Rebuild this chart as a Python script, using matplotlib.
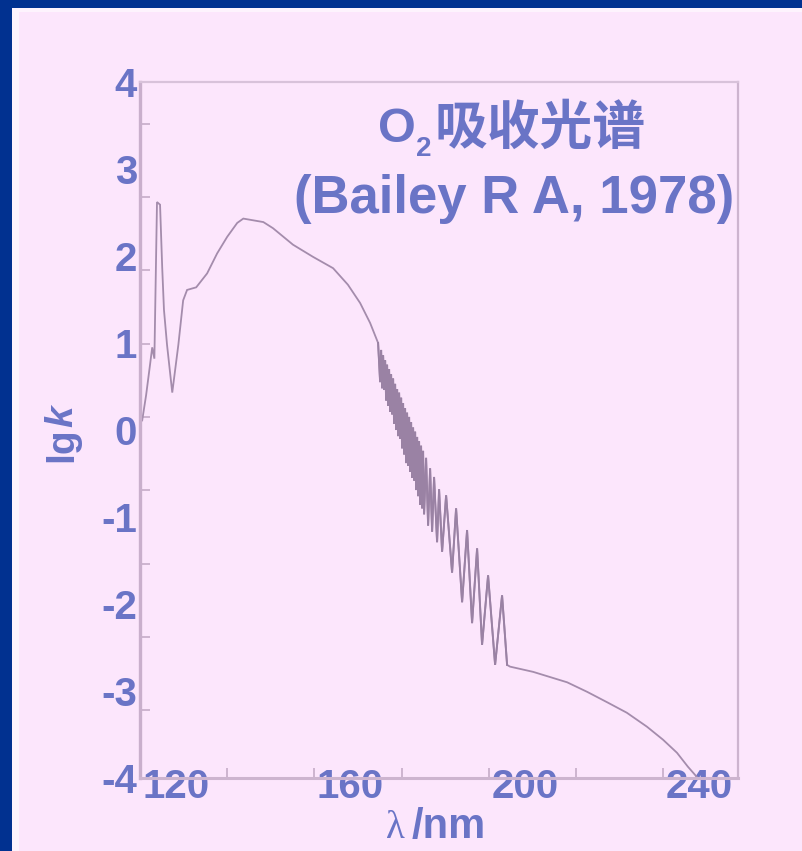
import matplotlib
matplotlib.use("Agg")
import matplotlib.pyplot as plt
import numpy as np
from matplotlib.ticker import FixedLocator, MultipleLocator
from matplotlib.patches import Rectangle

# O2 absorption coefficient (lg k) versus wavelength (nm)
wavelength_nm = [
    112.2, 113.1, 114.0, 114.5, 115.0, 115.6, 116.3, 116.8, 117.2, 117.9,
    119.1, 120.5, 121.6, 122.5, 124.6, 127.1, 129.4, 131.7, 134.0, 135.4,
    140.0, 142.2, 146.8, 151.4, 156.0, 159.4, 162.2, 164.5, 166.33,
    # Schumann-Runge bands
    166.79, 167.02, 167.25, 167.48, 167.71, 167.94, 168.17, 168.39, 168.62,
    168.85, 169.08, 169.31, 169.54, 169.77, 170.00, 170.23, 170.46, 170.69,
    170.92, 171.15, 171.38, 171.61, 171.83, 172.06, 172.29, 172.52, 172.75,
    172.98, 173.21, 173.44, 173.67, 173.90, 174.13, 174.36, 174.59, 174.82,
    175.05, 175.28, 175.50, 175.73, 175.96, 176.19, 176.42, 176.65, 176.88,
    177.34, 177.80, 178.26, 178.72, 179.17, 179.86, 180.32, 181.01,
    181.93, 183.30, 184.22, 185.60, 186.74, 187.89, 189.04, 190.18, 191.56,
    193.17, 194.77, 195.92,
    # Herzberg continuum
    196.6, 201.9, 209.7, 214.3, 218.9, 223.4, 228.0, 231.7, 234.9, 237.4,
    239.5, 240.6,
]
lg_k = [
    0.11, 0.40, 0.75, 0.95, 0.82, 2.62, 2.59, 1.86, 1.38, 0.98,
    0.43, 0.98, 1.49, 1.61, 1.64, 1.80, 2.03, 2.22, 2.38, 2.43,
    2.39, 2.32, 2.13, 1.99, 1.86, 1.67, 1.46, 1.23, 1.00,
    0.55, 0.92, 0.48, 0.86, 0.46, 0.80, 0.34, 0.75, 0.28,
    0.70, 0.21, 0.64, 0.18, 0.59, 0.07, 0.53, 0.00, 0.47,
    -0.07, 0.43, -0.10, 0.37, -0.21, 0.31, -0.28, 0.25, -0.38,
    0.20, -0.41, 0.15, -0.48, 0.09, -0.55, 0.03, -0.58, -0.02,
    -0.69, -0.08, -0.76, -0.13, -0.86, -0.18, -0.90, -0.24, -0.97,
    -0.32, -1.10, -0.44, -1.17, -0.54, -1.29, -0.68, -1.40,
    -0.75, -1.64, -0.90, -1.98, -1.15, -2.22, -1.36, -2.47, -1.67,
    -2.70, -1.90, -2.70,
    -2.72, -2.78, -2.90, -3.01, -3.13, -3.25, -3.41, -3.56, -3.71, -3.87,
    -3.99, -4.08,
]

x_ticks = [120, 160, 200, 240]
y_ticks = [-4, -3, -2, -1, 0, 1, 2, 3, 4]
title_species = "O"
title_subscript = "2"
title_words = "吸收光谱"
title_source = "(Bailey R A, 1978)"
x_symbol = "λ"
x_unit = "/nm"

W, H = 803, 851
NAVY = "#013190"
PANEL = "#FCE6FC"
TEXT = "#6A74C6"
CURVE = "#A48CAC"
BANDS = "#9A82A4"
FRAME = "#CDB4CF"

fig = plt.figure(figsize=(W / 100, H / 100), dpi=100)
fig.patch.set_facecolor(NAVY)


def fx(px):
    return px / W


def fy(py):
    return 1 - py / H


# slide panel with a thin light rim
fig.patches.append(Rectangle((fx(12), 0), 1, fy(8), transform=fig.transFigure,
                             facecolor="#FDF3FD", edgecolor="none", zorder=-10))
fig.patches.append(Rectangle((fx(19), 0), 1, fy(12), transform=fig.transFigure,
                             facecolor=PANEL, edgecolor="none", zorder=-9))

ax = fig.add_axes([fx(140), fy(778), fx(738) - fx(140), fy(82) - fy(778)])
ax.set_facecolor("none")
wl = np.array(wavelength_nm)
lk = np.array(lg_k)
ax.plot(wl, lk, color=CURVE, lw=1.3, solid_joinstyle="miter")
band = (wl >= 166.3) & (wl <= 196.0)
ax.plot(wl[band], lk[band], color=BANDS, lw=1.4, solid_joinstyle="miter")
ax.set_xlim(111.7, 248.9)
ax.set_ylim(-4, 4)

for side, sp in ax.spines.items():
    sp.set_color(FRAME)
    sp.set_linewidth(1.6)
ax.spines["left"].set_linewidth(2.4)
ax.spines["left"].set_color("#C9AFCC")
ax.spines["bottom"].set_linewidth(2.2)
ax.spines["top"].set_color("#D8C2DA")

# labelled positions
ax.xaxis.set_major_locator(FixedLocator(x_ticks))
ax.yaxis.set_major_locator(FixedLocator(y_ticks))
ax.set_xticklabels([str(v) for v in x_ticks])
ax.set_yticklabels([str(v) for v in y_ticks])
ax.tick_params(axis="both", which="major", length=0, labelsize=29,
               labelcolor=TEXT)
ax.tick_params(axis="x", which="major", pad=-7.5)
ax.tick_params(axis="y", which="major", pad=2)
for lab in ax.get_xticklabels() + ax.get_yticklabels():
    lab.set_fontfamily("Liberation Sans")
    lab.set_fontweight("bold")

# inner scale marks of the frame
ax.xaxis.set_minor_locator(MultipleLocator(20, offset=11.7))
ax.yaxis.set_minor_locator(MultipleLocator(0.843, offset=0.15))
ax.tick_params(axis="both", which="minor", direction="in", length=7,
               width=1.4, color=FRAME)

# y-axis title: "lg" upright, "k" italic
lg = fig.text(fx(62), fy(462), "lg", rotation=90, ha="center", va="bottom",
              fontsize=28, color=TEXT, fontweight="bold",
              family="Liberation Sans")
ax.annotate("k", xy=(0.5, 1), xycoords=lg, xytext=(0, 0),
            textcoords="offset points", rotation=90, ha="center", va="bottom",
            fontsize=28, color=TEXT, fontweight="bold", style="italic",
            family="Liberation Sans", annotation_clip=False)

# x-axis title
lam = fig.text(fx(386), fy(838), x_symbol, ha="left", va="baseline",
               fontsize=28, color=TEXT, family="Liberation Serif")
ax.annotate(x_unit, xy=(1, 0), xycoords=lam, xytext=(5, 0),
            textcoords="offset points", ha="left", va="bottom",
            fontsize=30, color=TEXT, fontweight="bold",
            family="Liberation Sans", annotation_clip=False)

# chart title
t_o = fig.text(fx(378), fy(142), title_species, ha="left", va="baseline",
               fontsize=35, color=TEXT, fontweight="bold",
               family="Liberation Sans")
t_sub = ax.annotate(title_subscript, xy=(1, 0), xycoords=t_o, xytext=(0, -7),
                    textcoords="offset points", ha="left", va="bottom",
                    fontsize=20, color=TEXT, fontweight="bold",
                    family="Liberation Sans", annotation_clip=False)
ax.annotate(title_words, xy=(1, 0), xycoords=t_sub, xytext=(2, 5),
            textcoords="offset points", ha="left", va="bottom",
            fontsize=38, color=TEXT, fontweight="bold",
            family="Noto Sans CJK SC", annotation_clip=False)
fig.text(fx(514), fy(213), title_source, ha="center", va="baseline",
         fontsize=38, color=TEXT, fontweight="bold", family="Liberation Sans")

fig.savefig("out.png", dpi=100, facecolor=fig.get_facecolor())
